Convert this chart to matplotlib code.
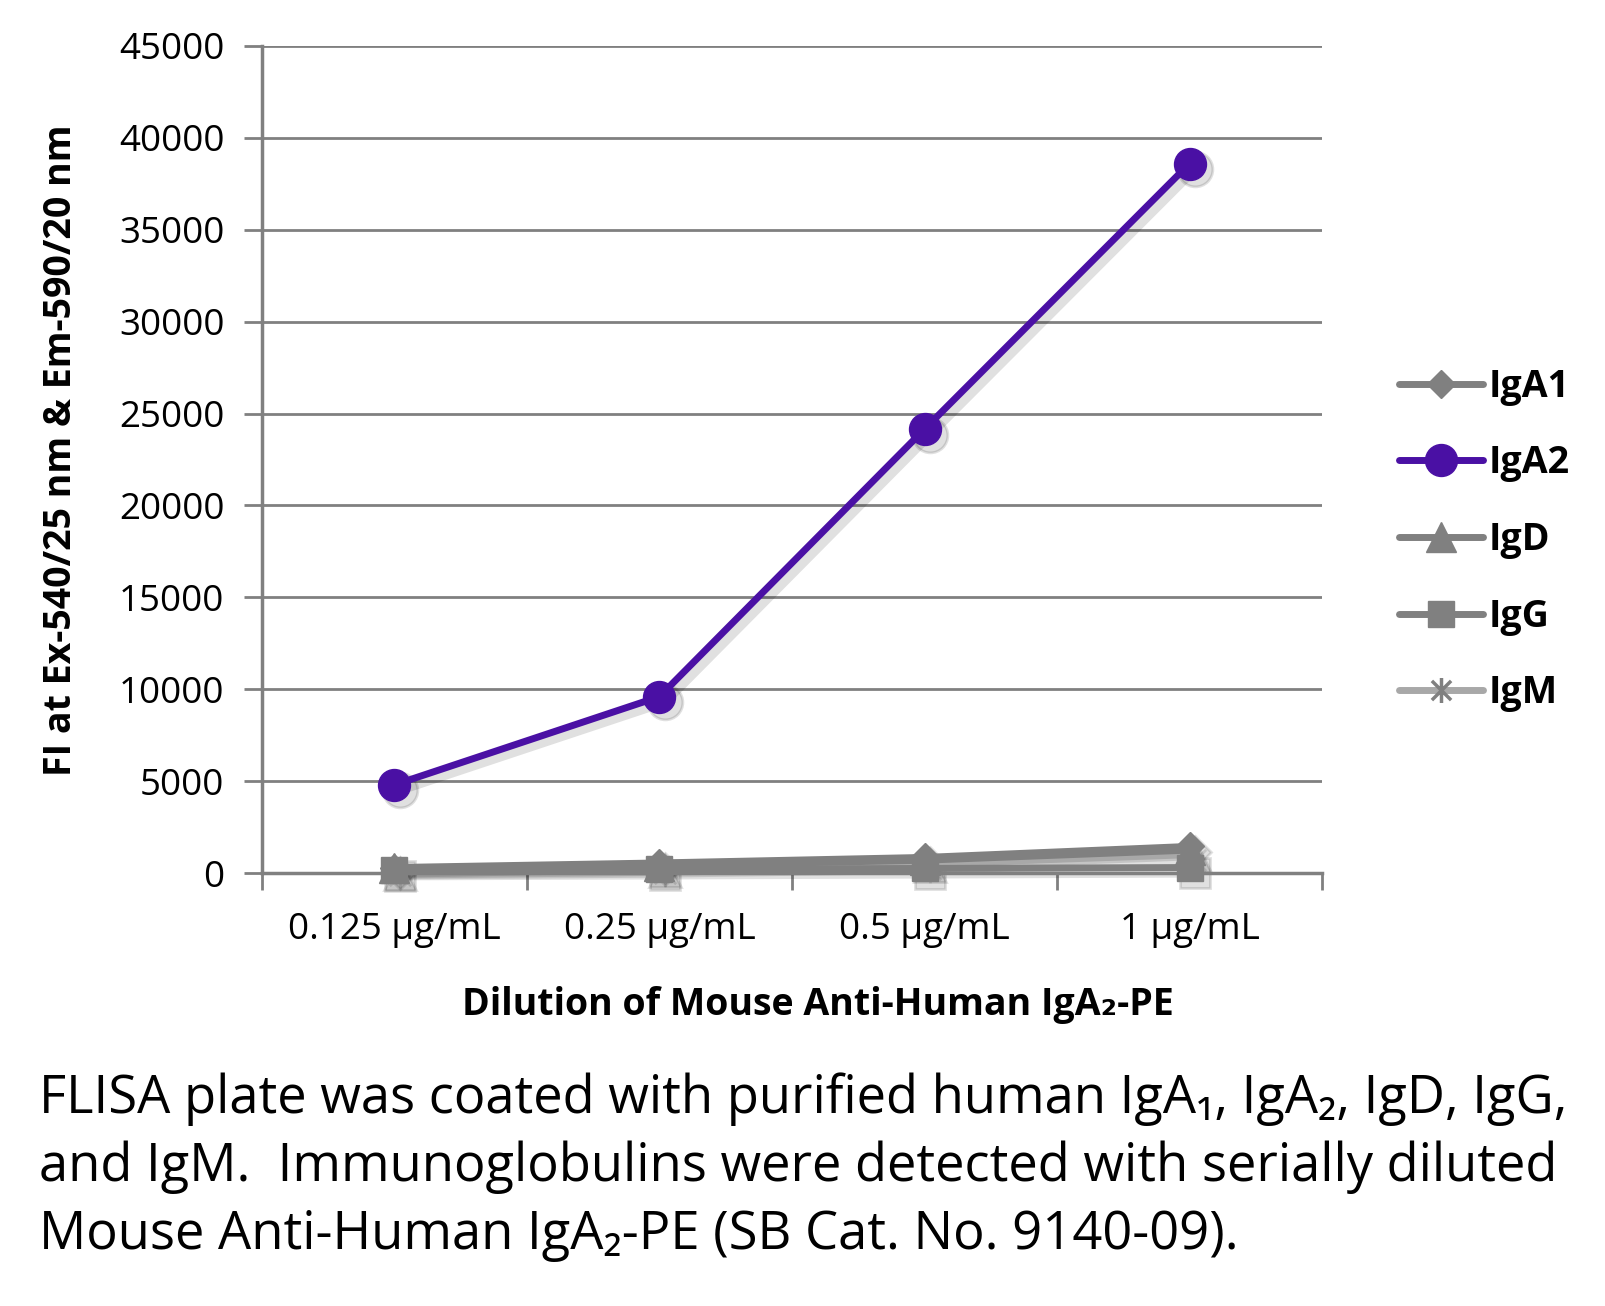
import matplotlib
matplotlib.use("Agg")
import matplotlib.pyplot as plt
import matplotlib.transforms as mtransforms
from matplotlib.path import Path
import numpy as np

plt.rcParams['font.family'] = ['Open Sans', 'DejaVu Sans']

# --- Data ---
dilutions = ["0.125 µg/mL", "0.25 µg/mL", "0.5 µg/mL", "1 µg/mL"]
iga1 = [300, 550, 850, 1450]
iga2 = [4800, 9600, 24150, 38600]
igd = [250, 400, 700, 1250]
igg = [150, 200, 250, 300]
igm = [200, 300, 500, 1000]

GREY = "#808080"
PURPLE = "#4a10a4"

# asterisk marker: x plus a vertical bar
star = Path([(-1, -1), (1, 1), (-1, 1), (1, -1), (0, -1.3), (0, 1.3)],
            [Path.MOVETO, Path.LINETO, Path.MOVETO, Path.LINETO, Path.MOVETO, Path.LINETO])

series = [
    ("IgA1", iga1, GREY, "D", 14),
    ("IgA2", iga2, PURPLE, "o", 23),
    ("IgD", igd, GREY, "^", 21),
    ("IgG", igg, GREY, "s", 19),
    ("IgM", igm, "#a8a8a8", star, 18),
]

fig = plt.figure(figsize=(16.05, 13.06), dpi=100)
ax = fig.add_axes([0.1632, 0.3315, 0.6605, 0.6333])

x = np.arange(len(dilutions))
shadow_tr = mtransforms.offset_copy(ax.transData, fig=fig, x=4, y=-4, units="points")

order = [4, 3, 2, 0, 1]
lines = {}
for i in order:
    name, vals, col, mk, ms = series[i]
    z = 4 if name == "IgA2" else 3
    # soft drop shadow
    ax.plot(x, vals, color="black", alpha=0.12, lw=6.5, marker=mk, markersize=ms + 2,
            markeredgecolor="black", markeredgewidth=2, transform=shadow_tr,
            solid_capstyle="round", zorder=z - 0.5, clip_on=False)
    is_star = name == "IgM"
    ln, = ax.plot(x, vals, color=col, lw=5, marker=mk, markersize=ms,
                  markerfacecolor=GREY if is_star else col,
                  markeredgecolor=GREY if is_star else col,
                  markeredgewidth=2.5 if is_star else 1,
                  solid_capstyle="round", label=name, zorder=z, clip_on=False)
    lines[name] = ln

ax.set_xlim(-0.5, 3.5)
ax.set_ylim(0, 45000)
ax.set_yticks(np.arange(0, 45001, 5000))
ax.set_xticks(x)
ax.set_xticklabels(dilutions, fontsize=26.5)
ax.tick_params(axis="x", length=0, pad=28)
ax.set_xticks(np.arange(-0.5, 4, 1), minor=True)
ax.tick_params(axis="x", which="minor", length=12, width=2, color=GREY, direction="out")
ax.tick_params(axis="y", labelsize=26.5, length=13, width=2, color=GREY, pad=14)
ax.grid(axis="y", color=GREY, lw=2)
ax.set_axisbelow(True)
for s in ["top", "right"]:
    ax.spines[s].set_visible(False)
for s in ["left", "bottom"]:
    ax.spines[s].set_color(GREY)
    ax.spines[s].set_linewidth(2.5)

ax.set_ylabel("FI at Ex-540/25 nm & Em-590/20 nm", fontsize=27, fontweight="bold")
ax.yaxis.set_label_coords(-0.172, 0.511)
ax.set_xlabel("Dilution of Mouse Anti-Human IgA₂-PE", fontsize=27, fontweight="bold")
ax.xaxis.set_label_coords(0.524, -0.137)

leg_handles = [lines[s[0]] for s in series]
fig.legend(leg_handles, [s[0] for s in series], loc="center left",
           bbox_to_anchor=(0.862, 0.5865), frameon=False, handlelength=2.25,
           labelspacing=1.03, handletextpad=0.15, borderaxespad=0,
           prop={"size": 27, "weight": "bold"})

caption = ("FLISA plate was coated with purified human IgA₁, IgA₂, IgD, IgG,\n"
           "and IgM.  Immunoglobulins were detected with serially diluted\n"
           "Mouse Anti-Human IgA₂-PE (SB Cat. No. 9140-09).")
fig.text(0.024, 0.179, caption, fontsize=37.8, va="top", ha="left", linespacing=1.36)

fig.savefig("out.png", dpi=100)
